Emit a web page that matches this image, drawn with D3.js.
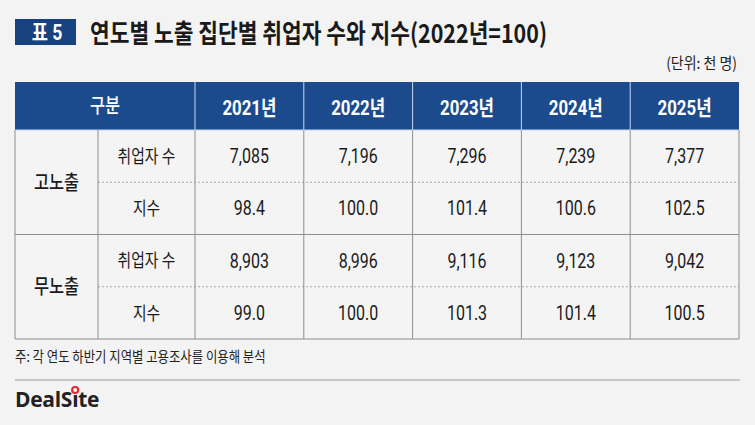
<!DOCTYPE html>
<html><head><meta charset="utf-8">
<script src="https://cdn.jsdelivr.net/npm/d3@7"></script>
<style>
html,body{margin:0;padding:0;background:#f3f3f3;}
svg{display:block;}
</style></head>
<body>
<svg id="c" width="755" height="425"></svg>
<script>
const titleTag = "표 5";
const titleText = "연도별 노출 집단별 취업자 수와 지수(2022년=100)";
const unitText = "(단위: 천 명)";
const headerFirst = "구분";
const years = ["2021년","2022년","2023년","2024년","2025년"];
const groups = ["고노출","무노출"];
const rowLabels = ["취업자 수","지수"];
const highEmp = [7085,7196,7296,7239,7377];
const highIdx = [98.4,100.0,101.4,100.6,102.5];
const noneEmp = [8903,8996,9116,9123,9042];
const noneIdx = [99.0,100.0,101.3,101.4,100.5];
const note = "주: 각 연도 하반기 지역별 고용조사를 이용해 분석";

const KR = "'Noto Sans CJK KR', sans-serif";
const NUM = "Roboto, 'Noto Sans CJK KR', sans-serif";
const SX = 0.8;
const svg = d3.select("#c");
svg.append("rect").attr("width",755).attr("height",425).attr("fill","#f3f3f3");

function txt(x, y, s, o){
  o = o || {};
  return svg.append("text")
    .attr("transform", `translate(${x},${y}) scale(${o.sx||SX},1)`)
    .attr("dy", o.dy || "0.36em")
    .attr("text-anchor", o.anchor || "middle")
    .attr("font-family", o.family || KR)
    .attr("font-weight", o.weight || 400)
    .attr("font-size", o.size || 16)
    .attr("fill", o.fill || "#1a1a1a")
    .text(s);
}

// Title
svg.append("rect").attr("x",15).attr("y",19).attr("width",61).attr("height",26).attr("fill","#17417f");
txt(47, 32, titleTag, {family:NUM, weight:700, size:22, fill:"#fff"});
svg.append("text").attr("x",90).attr("y",43).attr("font-family",KR).attr("font-weight",700)
  .attr("font-size",26).attr("fill","#1a1a1a").attr("textLength",457).attr("lengthAdjust","spacingAndGlyphs").text(titleText);
txt(737, 63, unitText, {anchor:"end", size:15.5, sx:0.9, fill:"#222"});

// Table geometry
const L=15, R=739, C1=98, C2=195, HT=82, HB=130, TB=339;
const x = d3.scaleBand().domain(years).range([C2,R]);
const rowsKey = ["g0r0","g0r1","g1r0","g1r1"];
const y = d3.scaleBand().domain(rowsKey).range([HB,TB]);

const fmtInt = d3.format(",");
const fmtIdx = d3.format(".1f");
const tableRows = [
  {g:0,r:0,vals:highEmp,fmt:fmtInt},
  {g:0,r:1,vals:highIdx,fmt:fmtIdx},
  {g:1,r:0,vals:noneEmp,fmt:fmtInt},
  {g:1,r:1,vals:noneIdx,fmt:fmtIdx}
];

// body background
svg.append("rect").attr("x",L).attr("y",HB).attr("width",R-L).attr("height",TB-HB).attr("fill","#f4f4f4");
// header
svg.append("rect").attr("x",L).attr("y",HT).attr("width",R-L).attr("height",HB-HT).attr("fill","#1c4b8d");
txt((L+C2)/2, (HT+HB)/2, headerFirst, {weight:500, size:20.5, fill:"#fff"});
years.forEach(d=>{
  txt(x(d)+x.bandwidth()/2, (HT+HB)/2+1, d, {family:NUM, weight:700, size:21, fill:"#fff"});
});
// header separators
svg.selectAll("line.hs").data(years).join("line").attr("class","hs")
  .attr("x1",d=>x(d)).attr("x2",d=>x(d)).attr("y1",HT).attr("y2",HB)
  .attr("stroke","#c9d6ea").attr("stroke-width",1);
svg.append("line").attr("x1",L).attr("x2",R).attr("y1",HB).attr("y2",HB).attr("stroke","#c9d6ea").attr("stroke-width",1);

// group labels
groups.forEach((g,i)=>{
  const y0 = y("g"+i+"r0"), y1 = y("g"+i+"r1")+y.bandwidth();
  txt((L+C1)/2, (y0+y1)/2, g, {weight:500, size:20.5});
});
// row labels & values
tableRows.forEach(row=>{
  const key = "g"+row.g+"r"+row.r;
  const cy = y(key)+y.bandwidth()/2;
  txt((C1+C2)/2, cy, rowLabels[row.r], {size:18.5});
  row.vals.forEach((d,i)=>{
    txt(x(years[i])+x.bandwidth()/2, cy, row.fmt(d), {family:NUM, size:19.5, sx:0.82});
  });
});
// dashed lines
groups.forEach((g,i)=>{
  const yy = y("g"+i+"r1");
  svg.append("line").attr("x1",C1).attr("x2",R).attr("y1",yy).attr("y2",yy)
    .attr("stroke","#a8a8a8").attr("stroke-width",1).attr("stroke-dasharray","2,2");
});
// solid lines
const grid = "#8e8e8e";
svg.append("line").attr("x1",L).attr("x2",R).attr("y1",y("g1r0")).attr("y2",y("g1r0")).attr("stroke",grid);
[C1,C2].forEach(xx=>svg.append("line").attr("x1",xx).attr("x2",xx).attr("y1",HB).attr("y2",TB).attr("stroke",grid));
svg.selectAll("line.vs").data(years.slice(1)).join("line").attr("class","vs")
  .attr("x1",d=>x(d)).attr("x2",d=>x(d)).attr("y1",HB).attr("y2",TB).attr("stroke",grid);
svg.append("line").attr("x1",L).attr("x2",L).attr("y1",HB).attr("y2",TB).attr("stroke",grid);
svg.append("line").attr("x1",R).attr("x2",R).attr("y1",HB).attr("y2",TB).attr("stroke",grid);
svg.append("line").attr("x1",L).attr("x2",R).attr("y1",TB).attr("y2",TB).attr("stroke",grid);

// note
txt(15, 357, note, {anchor:"start", size:14.5, sx:0.855, fill:"#222"});
svg.append("line").attr("x1",15).attr("x2",740).attr("y1",380).attr("y2",380).attr("stroke","#9a9a9a");

// logo
const logo = svg.append("text").attr("x",15).attr("y",407).attr("font-family","'Open Sans', sans-serif")
  .attr("font-weight",700).attr("font-size",21).attr("fill","#222").attr("letter-spacing",-0.3);
logo.append("tspan").text("DealS");
logo.append("tspan").text("ı");
logo.append("tspan").text("te");
const ln = logo.node();
const p = ln.getStartPositionOfChar(5), e = ln.getEndPositionOfChar(5);
svg.append("circle").attr("cx",(p.x+e.x)/2).attr("cy",390).attr("r",3).attr("fill","#fff")
  .attr("stroke","#e0282e").attr("stroke-width",2.2);
</script>
</body></html>
